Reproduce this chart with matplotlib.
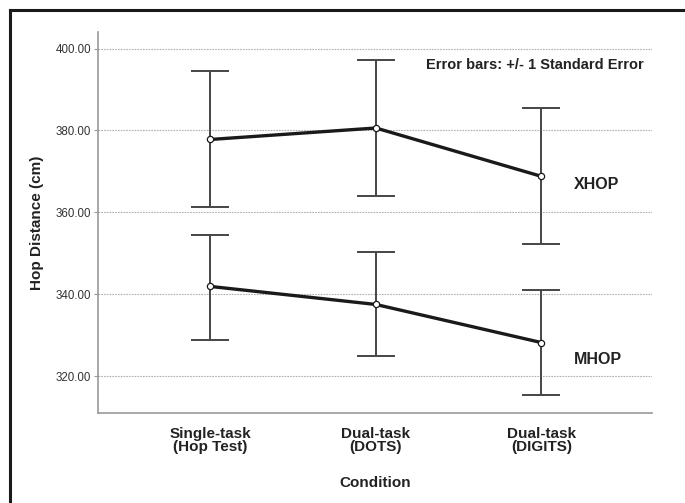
import matplotlib
matplotlib.use("Agg")
import matplotlib.pyplot as plt
from matplotlib.lines import Line2D
import numpy as np

plt.rcParams['font.family'] = ['Liberation Sans', 'DejaVu Sans']

# Data
conditions = ["Single-task\n(Hop Test)", "Dual-task\n(DOTS)", "Dual-task\n(DIGITS)"]
xhop_mean = [377.8, 380.6, 368.8]
xhop_upper = [394.4, 397.3, 385.4]
xhop_lower = [361.2, 363.9, 352.3]
mhop_mean = [341.9, 337.5, 328.2]
mhop_upper = [354.5, 350.4, 341.0]
mhop_lower = [328.9, 324.8, 315.5]
y_ticks = [320, 340, 360, 380, 400]

fig = plt.figure(figsize=(6.85, 5.03), dpi=100)
ax = fig.add_axes([0.143, 0.179, 0.809, 0.757])

x = np.arange(len(conditions))

for mean, upper, lower in [(xhop_mean, xhop_upper, xhop_lower),
                           (mhop_mean, mhop_upper, mhop_lower)]:
    mean = np.array(mean)
    err = [mean - np.array(lower), np.array(upper) - mean]
    ax.errorbar(x, mean, yerr=err, fmt='none', ecolor='#454545',
                elinewidth=1.4, capsize=13.5, capthick=1.4, zorder=2)
    ax.plot(x, mean, color='#1a1a1a', lw=2.4, marker='o', markersize=4.5,
            markerfacecolor='white', markeredgecolor='#1a1a1a',
            markeredgewidth=0.9, zorder=3)

ax.text(2.195, 366.8, "XHOP", fontsize=11.5, fontweight='bold', va='center', ha='left', color='#222222')
ax.text(2.195, 324.1, "MHOP", fontsize=11.5, fontweight='bold', va='center', ha='left', color='#222222')
ax.text(2.62, 396.1, "Error bars: +/- 1 Standard Error", fontsize=10.5,
        fontweight='bold', va='center', ha='right', color='#222222')

ax.set_xlim(-0.68, 2.67)
ax.set_ylim(311, 404)
ax.set_yticks(y_ticks)
ax.set_yticklabels([f"{v:.2f}" for v in y_ticks], fontsize=8.3, color='#333333')
ax.set_xticks(x)
ax.set_xticklabels(conditions, fontsize=11, fontweight='bold', color='#222222', linespacing=0.9)
ax.tick_params(axis='x', length=0, pad=10)
ax.tick_params(axis='y', length=3, color='#999999', pad=2)

ax.yaxis.grid(True, linestyle=(0, (1.5, 1)), color='#b0b0b0', lw=0.8)
ax.set_axisbelow(True)

for side in ['top', 'right']:
    ax.spines[side].set_visible(False)
for side in ['left', 'bottom']:
    ax.spines[side].set_color('#999999')
    ax.spines[side].set_linewidth(1.2)

ax.set_ylabel("Hop Distance (cm)", fontsize=11, fontweight='bold', color='#222222', labelpad=8)
ax.set_xlabel("Condition", fontsize=11, fontweight='bold', color='#222222', labelpad=16)

# frame lines along top and left of the image
fig.add_artist(Line2D([10 / 685, 10 / 685], [0, 1 - 10 / 503], color='#1a1a1a', lw=2.2,
                      transform=fig.transFigure))
fig.add_artist(Line2D([10 / 685, 1], [1 - 10 / 503, 1 - 10 / 503], color='#1a1a1a', lw=2.2,
                      transform=fig.transFigure))

fig.savefig("out.png", dpi=100)
